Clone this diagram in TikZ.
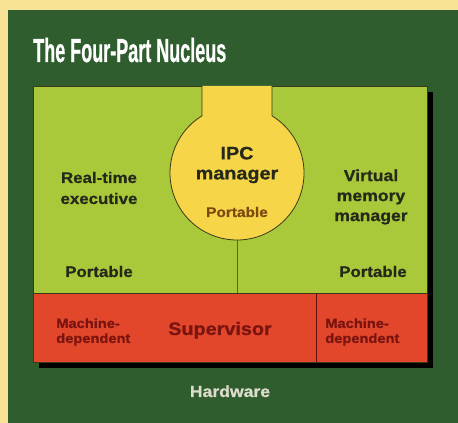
\documentclass[tikz,border=0pt]{standalone}
\usepackage{fontspec}
\newfontface\lab[FakeStretch=1.10,FakeBold=0.8]{Liberation Sans Bold}
\newfontface\ttl[FakeStretch=0.54,FakeBold=0.6]{Liberation Sans Bold}
\definecolor{bgyellow}{HTML}{F7E396}
\definecolor{panelgreen}{HTML}{2F5D2E}
\definecolor{boxgreen}{HTML}{A9C93B}
\definecolor{ipcyellow}{HTML}{F6D548}
\definecolor{supred}{HTML}{E2472B}
\definecolor{darktext}{HTML}{25291A}
\definecolor{redtext}{HTML}{7A1410}
\definecolor{browntext}{HTML}{7A4A12}
\definecolor{edge}{HTML}{3A3A1A}
\definecolor{hwtext}{HTML}{DCDCCC}
\tikzset{
  darklabel/.style={text=darktext, inner sep=0pt, align=center},
  redlabel/.style={text=redtext, inner sep=0pt, align=left},
  thinedge/.style={draw=edge, line width=0.6pt},
}
\begin{document}
\begin{tikzpicture}[x=0.75pt,y=0.75pt]
\useasboundingbox (0,0) rectangle (458,423);
% background
\fill[bgyellow] (0,0) rectangle (458,423);
\fill[panelgreen] (8,0) rectangle (458,413);
% shadow
\fill[black] (39,55) rectangle (433,331);
% green box
\fill[boxgreen] (33,130) rectangle (427,337);
% red supervisor region
\fill[supred] (33,61) rectangle (427,130);
\draw[thinedge] (33,61) rectangle (427,337);
\draw[thinedge] (33,130) -- (427,130);
% IPC manager shape (neck + circle)
\coordinate (ipcc) at (237,250);
\filldraw[fill=ipcyellow, thinedge] (202,337) -- (202,{250+67*sin(121.5)}) arc[start angle=121.5, end angle=418.5, radius=67] -- (272,337);
\coordinate (circbot) at (237,183);
\coordinate (redtop) at (237,130);
\draw[draw=edge!70!boxgreen, line width=0.6pt] (circbot) -- (redtop);
\coordinate (divtop) at (316,130);
\coordinate (divbot) at (316,61);
\draw[draw=redtext!80!black, line width=0.6pt] (divtop) -- (divbot);
% title
\node[anchor=base west, inner sep=0pt, text=white, font=\ttl\fontsize{25}{28}\selectfont] (title) at (33,361) {The Four-Part Nucleus};
% labels
\node[darklabel, font=\lab\fontsize{11.5}{15.75}\selectfont] (rte) at (99,235) {Real-time\\executive};
\node[darklabel, font=\lab\fontsize{13.5}{15}\selectfont] (ipc) at (237,258) {IPC\\manager};
\node[text=browntext, inner sep=0pt, font=\lab\fontsize{10.5}{12}\selectfont, anchor=base] (ipcport) at (237,206) {Portable};
\node[darklabel, font=\lab\fontsize{12}{15}\selectfont] (vmm) at (371,226) {Virtual\\memory\\manager};
\node[darklabel, font=\lab\fontsize{11.5}{14}\selectfont, anchor=base] (rteport) at (99,146) {Portable};
\node[darklabel, font=\lab\fontsize{11.5}{14}\selectfont, anchor=base] (vmmport) at (373,146) {Portable};
\node[redlabel, font=\lab\fontsize{10}{11.25}\selectfont, anchor=west] (md1) at (56,91) {Machine-\\dependent};
\node[redlabel, font=\lab\fontsize{13.5}{15}\selectfont, anchor=base] (sup) at (220,88) {Supervisor};
\node[redlabel, font=\lab\fontsize{10}{11.25}\selectfont, anchor=west] (md2) at (325,91) {Machine-\\dependent};
\node[text=hwtext, inner sep=0pt, font=\lab\fontsize{12}{14}\selectfont, anchor=base] (hw) at (230,26) {Hardware};
\end{tikzpicture}
\end{document}
